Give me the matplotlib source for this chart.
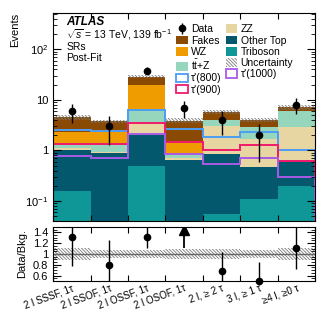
import numpy as np
import matplotlib
matplotlib.use("Agg")
from matplotlib import pyplot as plt
from matplotlib.patches import Patch
from matplotlib.ticker import FixedLocator, FixedFormatter, LogLocator, MultipleLocator, NullFormatter

plt.rcParams['font.family'] = ['Liberation Sans', 'DejaVu Sans']
plt.rcParams['mathtext.fontset'] = 'custom'
plt.rcParams['mathtext.rm'] = 'Liberation Sans'
plt.rcParams['mathtext.it'] = 'Liberation Sans:italic'
plt.rcParams['hatch.linewidth'] = 0.6

# signal regions
regions = ['2 l SSSF, 1τ', '2 l SSOF, 1τ', '2 l OSSF, 1τ', '2 l OSOF, 1τ',
           '2 l, ≥ 2 τ', '3 l, ≥ 1 τ', '≥4 l, ≥0 τ']

# post-fit background yields (stacked bottom -> top)
triboson = [0.155, 0.01, 0.50, 0.01, 0.056, 0.108, 0.20]
other_top = [0.845, 0.87, 1.55, 0.64, 0.80, 0.37, 0.43]
zz = [0.10, 0.07, 1.40, 0.07, 2.14, 1.22, 2.23]
ttz = [0.18, 0.35, 2.75, 0.08, 1.00, 1.16, 3.24]
wz = [1.02, 1.10, 13.8, 0.65, 0.0, 0.0, 0.0]
fakes = [2.28, 1.35, 8.80, 2.45, 1.80, 1.14, 1.10]
unc = [0.11, 0.08, 0.07, 0.10, 0.09, 0.08, 0.11]  # relative

# signal hypotheses
sig800 = [2.5, 2.4, 6.3, 2.6, 1.85, 2.33, 1.0]
sig900 = [1.32, 1.35, 3.55, 1.47, 1.03, 1.30, 0.63]
sig1000 = [0.77, 0.72, 2.1, 0.84, 0.54, 0.71, 0.30]

data = [6, 3, 38, 7, 4, 2, 8]
data_err = [2.45, 1.73, 6.16, 2.65, 2.0, 1.41, 2.83]

edges = np.arange(len(regions) + 1)
centers = edges[:-1] + 0.5

HATCH = '\\' * 10
UNC_C = '#7a7a7a'

stack = [(triboson, '#0f9696', 'Triboson'),
         (other_top, '#03586e', 'Other Top'),
         (zz, '#e8d6a2', 'ZZ'),
         (ttz, '#96d6bd', r'$\mathrm{t\bar{t}}$+Z'),
         (wz, '#ee9c00', 'WZ'),
         (fakes, '#8a4a04', 'Fakes')]
signals = [(sig800, '#4c9df5', "τ'(800)"),
           (sig900, '#f01a6c', "τ'(900)"),
           (sig1000, '#a95ae6', "τ'(1000)")]

fig = plt.figure(figsize=(3.32, 3.2), dpi=100)
ax = fig.add_axes([0.160, 0.309, 0.789, 0.650])
rax = fig.add_axes([0.160, 0.122, 0.789, 0.169])

ax.set_yscale('log')
cum = np.full(len(regions), 1e-4)
for vals, c, lab in stack:
    top = cum + np.array(vals)
    ax.stairs(top, edges, baseline=cum, fill=True, color=c, lw=0)
    cum = top
total = cum
u = np.array(unc)
ax.stairs(total * (1 + u), edges, baseline=total * (1 - u), fill=True,
          facecolor='none', edgecolor=UNC_C, hatch=HATCH, lw=0)

for vals, c, lab in signals:
    ax.stairs(vals, edges, color=c, lw=1.4)

ax.errorbar(centers, data, yerr=data_err, fmt='o', color='black', ms=4.5,
            elinewidth=1, capsize=0, label='Data')

ax.set_xlim(0, len(regions))
ax.set_ylim(0.04, 520)
ax.yaxis.set_major_locator(FixedLocator([0.1, 1, 10, 100]))
ax.yaxis.set_major_formatter(FixedFormatter([r'$10^{-1}$', '1', '10', r'$10^{2}$']))
ax.yaxis.set_minor_locator(LogLocator(base=10, subs=np.arange(2, 10)))
ax.yaxis.set_minor_formatter(NullFormatter())
ax.set_xticks(edges)
ax.set_xticklabels([])
ax.tick_params(which='both', direction='in', top=True, right=True, labelsize=8)
ax.tick_params(which='major', length=6)
ax.tick_params(which='minor', length=3)
ax.tick_params(axis='x', length=4)
ax.set_ylabel('Events', loc='top', fontsize=8)

ax.text(0.05, 0.957, 'ATLAS', transform=ax.transAxes, fontsize=8.5,
        fontweight='bold', fontstyle='italic', va='center')
ax.text(0.05, 0.899, r'$\sqrt{s}$ = 13 TeV, 139 fb$^{-1}$', transform=ax.transAxes,
        fontsize=7.5, va='center')
ax.text(0.05, 0.837, 'SRs', transform=ax.transAxes, fontsize=7.5, va='center')
ax.text(0.05, 0.782, 'Post-Fit', transform=ax.transAxes, fontsize=7.5, va='center')

# legend
h_data = ax.get_legend_handles_labels()[0][0]
handles = [h_data,
           Patch(facecolor='#8a4a04', label='Fakes'),
           Patch(facecolor='#ee9c00', label='WZ'),
           Patch(facecolor='#96d6bd', label=r'$\mathrm{t\bar{t}}$+Z'),
           Patch(facecolor='white', edgecolor='#4c9df5', lw=1.3, label="τ'(800)"),
           Patch(facecolor='white', edgecolor='#f01a6c', lw=1.3, label="τ'(900)"),
           Patch(facecolor='#e8d6a2', label='ZZ'),
           Patch(facecolor='#03586e', label='Other Top'),
           Patch(facecolor='#0f9696', label='Triboson'),
           Patch(facecolor='white', edgecolor=UNC_C, hatch=HATCH, lw=0, label='Uncertainty'),
           Patch(facecolor='white', edgecolor='#a95ae6', lw=1.3, label="τ'(1000)")]
fig.legend(handles=handles, ncol=2, loc='upper left', bbox_to_anchor=(0.515, 0.94),
           frameon=False, fontsize=7.5, borderpad=0, handlelength=1.1,
           handleheight=0.9, handletextpad=0.35, labelspacing=0.12,
           columnspacing=0.35)

# ratio panel
data_a = np.array(data, dtype=float)
err_a = np.array(data_err)
ratio = data_a / total
r_lo = (data_a - err_a) / total
r_hi = (data_a + err_a) / total
rax.stairs(1 + u, edges, baseline=1 - u, fill=True, facecolor='none',
           edgecolor=UNC_C, hatch=HATCH, lw=0)
rax.axhline(1, color='#666666', lw=1)
rmin, rmax = 0.5, 1.5
inside = ratio <= rmax
rax.vlines(centers[inside], r_lo[inside], r_hi[inside], color='black', lw=1)
rax.plot(centers[inside], ratio[inside], 'o', color='black', ms=4.5, clip_on=False)
for xc, lo in zip(centers[~inside], r_lo[~inside]):
    rax.vlines(xc, lo, rmax - 0.07, color='black', lw=1.3)
    rax.plot(xc, rmax - 0.05, marker='^', color='black', ms=7)

rax.set_xlim(0, len(regions))
rax.set_ylim(rmin, rmax)
rax.set_yticks([0.6, 0.8, 1.0, 1.2, 1.4])
rax.set_yticklabels(['0.6', '0.8', '1', '1.2', '1.4'])
rax.yaxis.set_minor_locator(MultipleLocator(0.05))
rax.set_xticks(edges)
rax.set_xticklabels([])
rax.set_xticks(centers, minor=True)
rax.set_xticklabels(regions, minor=True, rotation=20, ha='right',
                    rotation_mode='anchor')
rax.tick_params(which='both', direction='in', top=True, right=True, labelsize=8)
rax.tick_params(axis='x', which='minor', length=0, pad=1.5, labelsize=7)
rax.tick_params(axis='x', which='major', length=4)
rax.tick_params(axis='y', which='major', length=6)
rax.tick_params(axis='y', which='minor', length=3)
rax.set_ylabel('Data/Bkg.', fontsize=8)

fig.align_ylabels([ax, rax])
fig.savefig('out.png', dpi=100)
